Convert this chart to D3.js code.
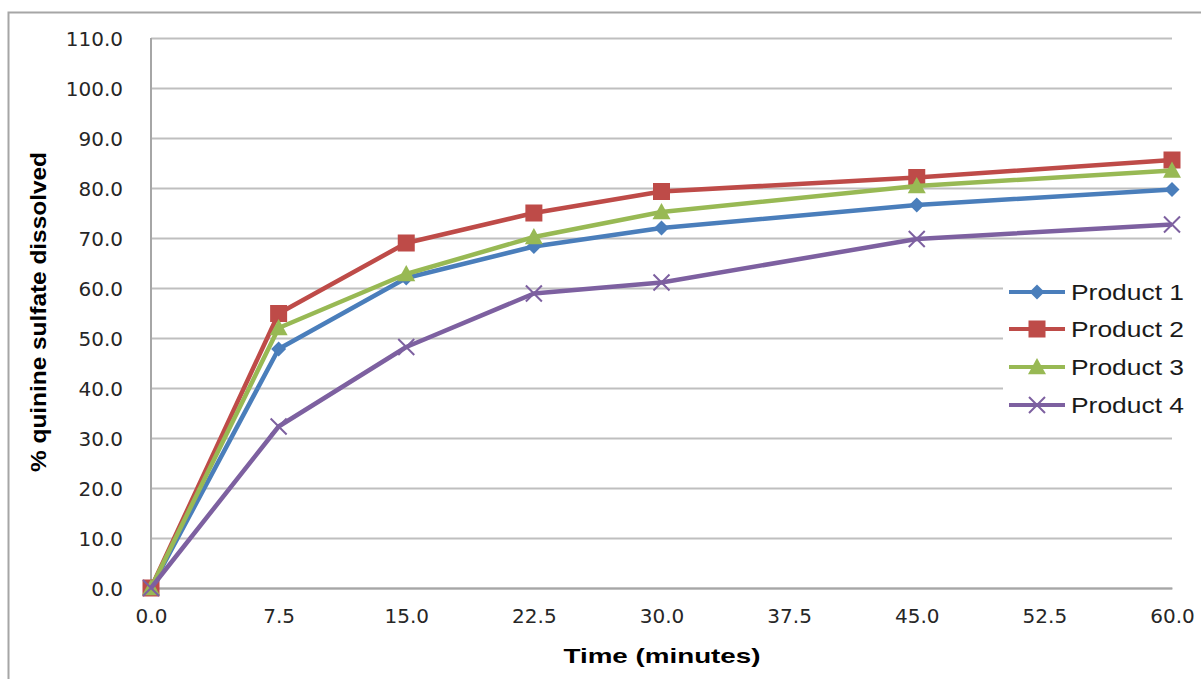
<!DOCTYPE html>
<html>
<head>
<meta charset="utf-8">
<script src="https://cdn.jsdelivr.net/npm/d3@7"></script>
<style>
  html, body { margin: 0; padding: 0; background: #fff; }
  svg { display: block; }
</style>
</head>
<body>
<svg id="chart" width="1201" height="679"></svg>
<script>
// Dissolution profile data: time points (minutes) and % dissolved per product
const time = [0, 7.5, 15, 22.5, 30, 45, 60];
const product1 = [0, 47.8, 62.0, 68.3, 72.0, 76.6, 79.7];
const product2 = [0, 54.9, 69.0, 75.0, 79.3, 82.1, 85.6];
const product3 = [0, 52.0, 62.8, 70.2, 75.2, 80.4, 83.5];
const product4 = [0, 32.3, 48.2, 58.9, 61.1, 69.8, 72.7];
const seriesNames = ["Product 1", "Product 2", "Product 3", "Product 4"];
const xTickValues = [0, 7.5, 15, 22.5, 30, 37.5, 45, 52.5, 60];
const yTickValues = [0, 10, 20, 30, 40, 50, 60, 70, 80, 90, 100, 110];

const colors = ["#4a7ebb", "#be4b48", "#98b954", "#7d60a0"];
const symbols = ["diamond", "square", "triangle", "cross"];
const seriesValues = [product1, product2, product3, product4];

const svg = d3.select("#chart");
const W = 1201, H = 679;
const plot = { left: 151, right: 1172, top: 38, bottom: 588 };

// outer chart frame
svg.append("rect")
  .attr("x", 8.5).attr("y", 12.5)
  .attr("width", W + 20).attr("height", H + 20)
  .attr("fill", "#fff").attr("stroke", "#a6a6a6").attr("stroke-width", 2);

const x = d3.scaleLinear().domain([0, 60]).range([plot.left, plot.right]);
const y = d3.scaleLinear().domain([0, 110]).range([plot.bottom, plot.top]);
const fmt = d3.format(".1f");

// horizontal gridlines and y tick labels
const yAxis = svg.append("g")
  .attr("transform", `translate(${plot.left},0)`)
  .call(d3.axisLeft(y).tickValues(yTickValues).tickFormat(fmt)
    .tickSize(-(plot.right - plot.left)).tickPadding(28));
yAxis.select(".domain").remove();
yAxis.selectAll(".tick line").attr("stroke", "#bfbfbf").attr("stroke-width", 2);
yAxis.selectAll(".tick text")
  .attr("fill", "#262626")
  .style("font-family", "'DejaVu Sans', sans-serif")
  .style("font-size", "20px")
  .attr("dy", "0.38em");

// vertical axis line
svg.append("line")
  .attr("x1", plot.left).attr("x2", plot.left)
  .attr("y1", plot.top).attr("y2", plot.bottom)
  .attr("stroke", "#a6a6a6").attr("stroke-width", 2);

// x axis labels
const xAxis = svg.append("g")
  .attr("transform", `translate(0,${plot.bottom})`)
  .call(d3.axisBottom(x).tickValues(xTickValues).tickFormat(fmt)
    .tickSize(0).tickPadding(21));
xAxis.select(".domain").attr("stroke", "#a6a6a6").attr("stroke-width", 2);
xAxis.selectAll(".tick text")
  .attr("fill", "#262626")
  .style("font-family", "'DejaVu Sans', sans-serif")
  .style("font-size", "20px");

// axis titles
svg.append("text")
  .attr("x", 662).attr("y", 663)
  .attr("text-anchor", "middle")
  .attr("textLength", 197).attr("lengthAdjust", "spacingAndGlyphs")
  .style("font-family", "'Liberation Sans', Arial, sans-serif")
  .style("font-weight", "bold").style("font-size", "21px")
  .attr("fill", "#000")
  .text("Time (minutes)");

svg.append("text")
  .attr("transform", "translate(46,312) rotate(-90)")
  .attr("text-anchor", "middle")
  .attr("textLength", 320).attr("lengthAdjust", "spacingAndGlyphs")
  .style("font-family", "'Liberation Sans', Arial, sans-serif")
  .style("font-weight", "bold").style("font-size", "22px")
  .attr("fill", "#000")
  .text("% quinine sulfate dissolved");

// marker drawing helper
function drawMarker(g, kind, color, cx, cy) {
  if (kind === "diamond") {
    const s = 7.5;
    g.append("path")
      .attr("d", `M${cx},${cy - s}L${cx + s},${cy}L${cx},${cy + s}L${cx - s},${cy}Z`)
      .attr("fill", color);
  } else if (kind === "square") {
    const s = 8.5;
    g.append("rect")
      .attr("x", cx - s).attr("y", cy - s).attr("width", 2 * s).attr("height", 2 * s)
      .attr("fill", color);
  } else if (kind === "triangle") {
    const s = 9;
    g.append("path")
      .attr("d", `M${cx},${cy - s}L${cx + s},${cy + s * 0.8}L${cx - s},${cy + s * 0.8}Z`)
      .attr("fill", color);
  } else {
    const s = 8;
    g.append("path")
      .attr("d", `M${cx - s},${cy - s}L${cx + s},${cy + s}M${cx - s},${cy + s}L${cx + s},${cy - s}`)
      .attr("stroke", color).attr("stroke-width", 2).attr("fill", "none");
  }
}

// series lines with markers
const line = d3.line().x(d => x(d[0])).y(d => y(d[1]));
seriesValues.forEach((vals, i) => {
  const pts = time.map((t, k) => [t, vals[k]]);
  const g = svg.append("g");
  g.append("path")
    .datum(pts)
    .attr("d", line)
    .attr("fill", "none")
    .attr("stroke", colors[i])
    .attr("stroke-width", 4.5)
    .attr("stroke-linejoin", "round");
  pts.forEach(p => drawMarker(g, symbols[i], colors[i], x(p[0]), y(p[1])));
});

// legend
const legend = svg.append("g");
legend.append("rect")
  .attr("x", 1003).attr("y", 272).attr("width", 192).attr("height", 152)
  .attr("fill", "#fff");
const legendRowY = [292, 329, 367, 405];
seriesNames.forEach((name, i) => {
  const ly = legendRowY[i];
  legend.append("line")
    .attr("x1", 1009).attr("x2", 1065).attr("y1", ly).attr("y2", ly)
    .attr("stroke", colors[i]).attr("stroke-width", 4);
  drawMarker(legend, symbols[i], colors[i], 1037, ly);
  legend.append("text")
    .attr("x", 1071).attr("y", ly + 8)
    .attr("textLength", 113).attr("lengthAdjust", "spacingAndGlyphs")
    .style("font-family", "'Liberation Sans', Arial, sans-serif")
    .style("font-size", "22px")
    .attr("fill", "#1a1a1a")
    .text(name);
});
</script>
</body>
</html>
